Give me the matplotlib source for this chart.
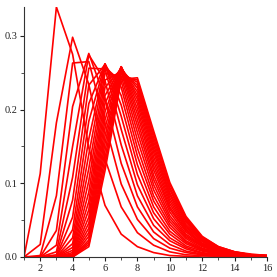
import matplotlib
matplotlib.use("Agg")
import matplotlib.pyplot as plt
from matplotlib.ticker import MultipleLocator, FormatStrFormatter

# run length (x) and one probability list per curve
x_values = [1, 2, 3, 4, 5, 6, 7, 8, 9, 10, 11, 12, 13, 14, 15, 16]

p_n11 = [0.000, 0.113, 0.339, 0.275, 0.148, 0.070, 0.031, 0.014, 0.006, 0.002, 0.001, 0.000, 0.000, 0.000, 0.000, 0.000]
p_n21 = [0.000, 0.017, 0.182, 0.298, 0.234, 0.133, 0.068, 0.033, 0.016, 0.007, 0.003, 0.002, 0.001, 0.000, 0.000, 0.000]
p_n31 = [0.000, 0.002, 0.083, 0.263, 0.265, 0.181, 0.099, 0.051, 0.025, 0.012, 0.006, 0.003, 0.001, 0.001, 0.000, 0.000]
p_n41 = [0.000, 0.000, 0.036, 0.204, 0.276, 0.215, 0.127, 0.068, 0.034, 0.017, 0.008, 0.004, 0.002, 0.001, 0.000, 0.000]
p_n51 = [0.000, 0.000, 0.016, 0.150, 0.274, 0.239, 0.152, 0.083, 0.043, 0.022, 0.011, 0.005, 0.003, 0.001, 0.001, 0.000]
p_n61 = [0.000, 0.000, 0.007, 0.108, 0.256, 0.255, 0.173, 0.098, 0.052, 0.026, 0.013, 0.006, 0.003, 0.002, 0.001, 0.000]
p_n71 = [0.000, 0.000, 0.003, 0.077, 0.233, 0.261, 0.191, 0.112, 0.060, 0.031, 0.015, 0.008, 0.004, 0.002, 0.001, 0.000]
p_n81 = [0.000, 0.000, 0.001, 0.054, 0.208, 0.262, 0.206, 0.125, 0.068, 0.035, 0.018, 0.009, 0.004, 0.002, 0.001, 0.001]
p_n91 = [0.000, 0.000, 0.001, 0.037, 0.184, 0.262, 0.219, 0.137, 0.076, 0.040, 0.020, 0.010, 0.005, 0.002, 0.001, 0.001]
p_n101 = [0.000, 0.000, 0.000, 0.026, 0.160, 0.260, 0.230, 0.148, 0.083, 0.044, 0.022, 0.011, 0.006, 0.003, 0.001, 0.001]
p_n111 = [0.000, 0.000, 0.000, 0.018, 0.139, 0.257, 0.238, 0.159, 0.091, 0.048, 0.025, 0.012, 0.006, 0.003, 0.002, 0.001]
p_n121 = [0.000, 0.000, 0.000, 0.013, 0.120, 0.249, 0.245, 0.169, 0.098, 0.052, 0.027, 0.014, 0.007, 0.003, 0.002, 0.001]
p_n131 = [0.000, 0.000, 0.000, 0.009, 0.103, 0.240, 0.251, 0.178, 0.105, 0.056, 0.029, 0.015, 0.007, 0.004, 0.002, 0.001]
p_n141 = [0.000, 0.000, 0.000, 0.006, 0.088, 0.230, 0.255, 0.186, 0.111, 0.061, 0.031, 0.016, 0.008, 0.004, 0.002, 0.001]
p_n151 = [0.000, 0.000, 0.000, 0.004, 0.075, 0.219, 0.257, 0.194, 0.118, 0.065, 0.034, 0.017, 0.009, 0.004, 0.002, 0.001]
p_n161 = [0.000, 0.000, 0.000, 0.003, 0.064, 0.208, 0.258, 0.201, 0.124, 0.068, 0.036, 0.018, 0.009, 0.005, 0.002, 0.001]
p_n171 = [0.000, 0.000, 0.000, 0.002, 0.054, 0.197, 0.258, 0.208, 0.130, 0.072, 0.038, 0.019, 0.010, 0.005, 0.002, 0.001]
p_n181 = [0.000, 0.000, 0.000, 0.001, 0.046, 0.186, 0.258, 0.214, 0.136, 0.076, 0.040, 0.021, 0.010, 0.005, 0.003, 0.001]
p_n191 = [0.000, 0.000, 0.000, 0.001, 0.039, 0.175, 0.257, 0.219, 0.142, 0.080, 0.042, 0.022, 0.011, 0.005, 0.003, 0.001]
p_n201 = [0.000, 0.000, 0.000, 0.001, 0.033, 0.164, 0.256, 0.224, 0.147, 0.084, 0.044, 0.023, 0.012, 0.006, 0.003, 0.001]
p_n211 = [0.000, 0.000, 0.000, 0.000, 0.028, 0.154, 0.255, 0.229, 0.152, 0.087, 0.047, 0.024, 0.012, 0.006, 0.003, 0.002]
p_n221 = [0.000, 0.000, 0.000, 0.000, 0.023, 0.144, 0.252, 0.233, 0.157, 0.091, 0.049, 0.025, 0.013, 0.006, 0.003, 0.002]
p_n231 = [0.000, 0.000, 0.000, 0.000, 0.020, 0.134, 0.249, 0.237, 0.162, 0.094, 0.051, 0.026, 0.013, 0.007, 0.003, 0.002]
p_n241 = [0.000, 0.000, 0.000, 0.000, 0.017, 0.125, 0.245, 0.240, 0.167, 0.098, 0.053, 0.027, 0.014, 0.007, 0.003, 0.002]
p_n251 = [0.000, 0.000, 0.000, 0.000, 0.014, 0.117, 0.241, 0.243, 0.171, 0.101, 0.055, 0.028, 0.014, 0.007, 0.004, 0.002]

curves = [p_n11, p_n21, p_n31, p_n41, p_n51, p_n61, p_n71, p_n81, p_n91,
          p_n101, p_n111, p_n121, p_n131, p_n141, p_n151, p_n161, p_n171,
          p_n181, p_n191, p_n201, p_n211, p_n221, p_n231, p_n241, p_n251]

fig = plt.figure(figsize=(2.77, 2.77), dpi=100)
ax = fig.add_axes([24 / 277, 20 / 277, 243 / 277, 250 / 277])

for ys in curves:
    ax.plot(x_values, ys, color="red", lw=1.2)

ax.set_xlim(1, 16)
ax.set_ylim(0, max(max(ys) for ys in curves))
for s in ["top", "right"]:
    ax.spines[s].set_visible(False)
for s in ["left", "bottom"]:
    ax.spines[s].set_color("#333333")
    ax.spines[s].set_linewidth(0.8)

ax.xaxis.set_major_locator(MultipleLocator(2))
ax.xaxis.set_minor_locator(MultipleLocator(1))
ax.yaxis.set_major_locator(MultipleLocator(0.1))
ax.yaxis.set_minor_locator(MultipleLocator(0.05))
ax.yaxis.set_major_formatter(FormatStrFormatter("%.1f"))
ax.tick_params(labelsize=7.5, length=3, width=0.8, colors="#222222", pad=2)
ax.tick_params(which="minor", length=2, width=0.6, colors="#333333")
for lab in ax.get_xticklabels() + ax.get_yticklabels():
    lab.set_family("Liberation Serif")

fig.savefig("out.png", dpi=100)
